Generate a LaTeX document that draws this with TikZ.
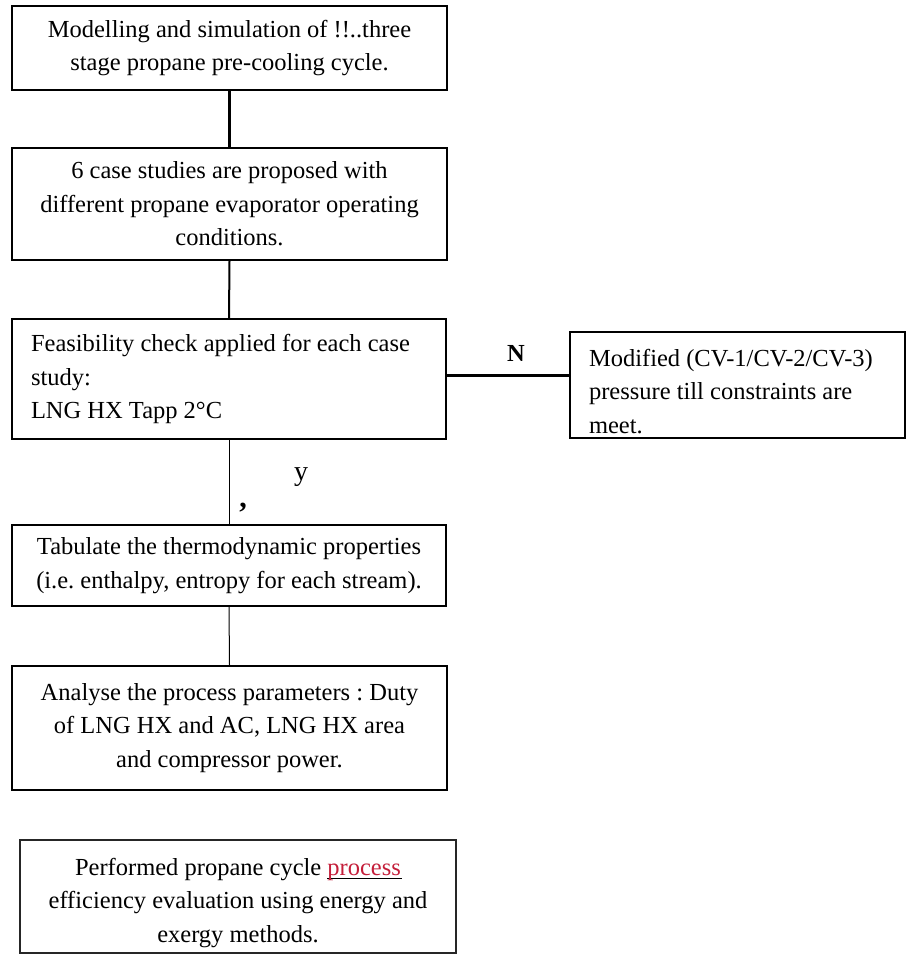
\documentclass[tikz,border=0pt]{standalone}
\usepackage{fontspec}
\setmainfont{Liberation Serif}
\frenchspacing
\definecolor{procred}{HTML}{C41E3A}
\newcommand\procword{\rlap{\rule[-4pt]{75pt}{1.3pt}}\textcolor{procred}{process}\ }
\begin{document}
\begin{tikzpicture}[x=1pt,y=-1pt,
  box/.style={draw=black,line width=2pt,rectangle,inner sep=0pt,
    font=\fontsize{24.5}{33.5}\selectfont},
  cbox/.style={box,align=center},
  lbox/.style={box,align=flush left},
  lbl/.style={inner sep=0pt,font=\fontsize{24.5}{30}\selectfont}]
\useasboundingbox (0,0) rectangle (907,955);
\node[cbox,minimum width=435pt,minimum height=84pt] (b1) at (229.5,48)
  {Modelling and simulation of !!..three\\stage propane pre-cooling cycle.};
\node[cbox,minimum width=435pt,minimum height=112pt] (b2) at (229.5,204)
  {6 case studies are proposed with\\different propane evaporator operating\\conditions.};
\node[lbox,minimum width=434pt,minimum height=120pt,text width=396pt,inner xsep=19pt] (b3) at (229,379)
  {Feasibility check applied for each case\\study:\\LNG HX Tapp 2°C};
\node[lbox,minimum width=335pt,minimum height=106pt,text width=297pt,inner xsep=19pt] (bn) at (737.5,385)
  {\rule{0pt}{30pt}Modified (CV-1/CV-2/CV-3)\\pressure till constraints are\\meet.};
\node[cbox,minimum width=434pt,minimum height=81pt] (b4) at (229,565.5)
  {Tabulate the thermodynamic properties\\(i.e. enthalpy, entropy for each stream).};
\node[cbox,minimum width=435pt,minimum height=124pt] (b5) at (229.5,728)
  {Analyse the process parameters : Duty\\of LNG HX and AC, LNG HX area\\and compressor power.};
\node[cbox,draw=black!85,line width=1.3pt,minimum width=436pt,minimum height=113pt] (b6) at (238,896.5)
  {\rule{0pt}{30pt}Performed propane cycle \procword\\efficiency evaluation using energy and\\exergy methods.};
\draw[line width=3pt] (b1.south) -- (b2.north);
\draw[line width=2pt] (b2.south) -- (b3.north);
\draw[line width=3pt] ([yshift=4pt]b3.east) -- ([yshift=4pt]b3.east -| bn.west);
\draw[line width=1pt] (b3.south) -- (b4.north);
\draw[line width=1pt] (b4.south) -- (b5.north);
\node[lbl,font=\fontsize{24.5}{30}\selectfont\bfseries] (ln) at (516,353) {N};
\node[lbl,font=\fontsize{28}{30}\selectfont] (ly) at (301,477) {y};
\node[lbl,font=\fontsize{30}{30}\selectfont\bfseries] (lc) at (243,508) {,};
\end{tikzpicture}
\end{document}
